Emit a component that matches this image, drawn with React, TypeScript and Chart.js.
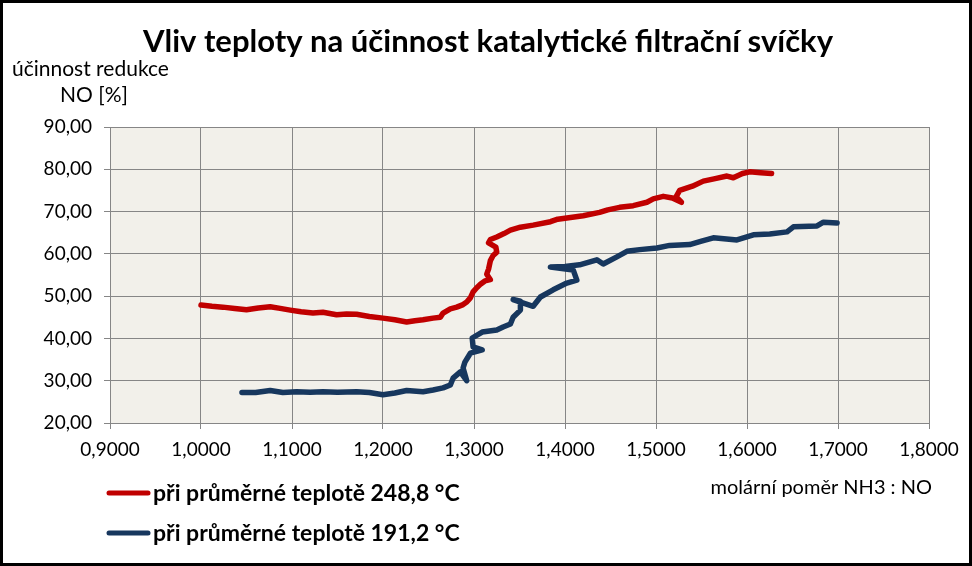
import React, { useEffect, useRef } from "react";
import { Chart, registerables } from "chart.js";

Chart.register(...registerables);

const TITLE = "Vliv teploty na účinnost katalytické filtrační svíčky";
const Y_TITLE_1 = "účinnost redukce";
const Y_TITLE_2 = "NO [%]";
const X_TITLE = "molární poměr NH3 : NO";
const SERIES_NAMES = ["při průměrné teplotě 248,8 °C", "při průměrné teplotě 191,2 °C"];
const SERIES_COLORS = ["#C00000", "#17375E"];

const redX = [
  1.000, 1.012, 1.024, 1.037, 1.050, 1.063, 1.076, 1.087, 1.098, 1.110, 1.123, 1.134, 1.149, 1.160,
  1.171, 1.185, 1.200, 1.213, 1.226, 1.235, 1.244, 1.255, 1.263, 1.266, 1.274, 1.281, 1.288, 1.292,
  1.296, 1.299, 1.303, 1.307, 1.312, 1.318, 1.314, 1.316, 1.318, 1.321, 1.325, 1.324, 1.316, 1.318,
  1.325, 1.333, 1.340, 1.351, 1.365, 1.384, 1.392, 1.402, 1.420, 1.438, 1.447, 1.460, 1.475, 1.490,
  1.497, 1.508, 1.518, 1.528, 1.522, 1.526, 1.540, 1.552, 1.565, 1.578, 1.585, 1.595, 1.603, 1.615, 1.627,
];
const redY = [
  47.9, 47.6, 47.4, 47.1, 46.8, 47.2, 47.5, 47.1, 46.7, 46.3, 46.0, 46.2, 45.6, 45.8,
  45.7, 45.2, 44.8, 44.4, 43.9, 44.2, 44.4, 44.8, 45.0, 46.0, 47.0, 47.4, 48.0, 48.6,
  49.6, 51.0, 52.0, 52.8, 53.6, 53.9, 55.2, 56.4, 58.4, 59.6, 60.4, 61.6, 62.6, 63.4,
  64.0, 64.8, 65.6, 66.3, 66.8, 67.6, 68.2, 68.5, 69.0, 69.8, 70.4, 71.0, 71.4, 72.2,
  73.0, 73.6, 73.2, 72.2, 73.5, 75.0, 76.0, 77.2, 77.8, 78.4, 78.0, 79.0, 79.4, 79.2, 79.0,
];

const blueX = [
  1.045, 1.060, 1.076, 1.090, 1.105, 1.120, 1.134, 1.150, 1.171, 1.185, 1.200, 1.213, 1.226, 1.244,
  1.255, 1.266, 1.274, 1.277, 1.285, 1.292, 1.288, 1.290, 1.296, 1.309, 1.299, 1.298, 1.309, 1.325,
  1.332, 1.340, 1.343, 1.351, 1.351, 1.343, 1.365, 1.373, 1.387, 1.402, 1.413, 1.409, 1.384, 1.400,
  1.416, 1.435, 1.442, 1.457, 1.468, 1.482, 1.501, 1.515, 1.537, 1.550, 1.563, 1.589, 1.607, 1.625,
  1.644, 1.651, 1.677, 1.684, 1.699,
];
const blueY = [
  27.2, 27.2, 27.7, 27.2, 27.4, 27.3, 27.4, 27.3, 27.4, 27.2, 26.7, 27.1, 27.7, 27.4,
  27.8, 28.3, 29.0, 30.6, 32.1, 30.0, 33.0, 34.4, 36.5, 37.3, 38.0, 40.1, 41.5, 42.0,
  42.7, 43.4, 45.0, 46.7, 48.8, 49.2, 47.6, 49.8, 51.5, 53.1, 53.8, 56.2, 56.9, 57.0,
  57.4, 58.6, 57.6, 59.3, 60.6, 61.0, 61.4, 62.0, 62.2, 63.0, 63.8, 63.3, 64.5, 64.7,
  65.2, 66.4, 66.6, 67.5, 67.3,
];

const X_MIN = 0.9, X_MAX = 1.8, X_STEP = 0.1;
const Y_MIN = 20, Y_MAX = 90, Y_STEP = 10;

const FONT = "Lato, 'Open Sans', sans-serif";
const GRID = "#868686";
const PLOT_BG = "#F2F0EA";

const toPts = (xs: number[], ys: number[]) => xs.map((x, i) => ({ x, y: ys[i] }));

const decorPlugin = {
  id: "decor",
  beforeDraw(chart: any) {
    const { ctx, chartArea, width, height } = chart;
    ctx.save();
    ctx.fillStyle = "#FFFFFF";
    ctx.fillRect(0, 0, width, height);
    ctx.fillStyle = PLOT_BG;
    ctx.fillRect(chartArea.left, chartArea.top, chartArea.right - chartArea.left, chartArea.bottom - chartArea.top);
    ctx.restore();
  },
  afterDraw(chart: any) {
    const { ctx, width, height } = chart;
    ctx.save();
    ctx.fillStyle = "#000000";
    ctx.textBaseline = "alphabetic";
    // title
    ctx.font = `bold 31px ${FONT}`;
    ctx.textAlign = "center";
    ctx.fillText(TITLE, 488, 52);
    // y title
    ctx.font = `21px ${FONT}`;
    ctx.textAlign = "left";
    ctx.fillText(Y_TITLE_1, 12, 76);
    ctx.fillText(Y_TITLE_2, 60, 102);
    // x title
    ctx.font = `20px ${FONT}`;
    ctx.textAlign = "right";
    ctx.fillText(X_TITLE, 932, 494);
    // legend
    const rows = [493, 533];
    rows.forEach((ly, i) => {
      ctx.strokeStyle = SERIES_COLORS[i];
      ctx.lineWidth = 5;
      ctx.lineCap = "round";
      ctx.beginPath();
      ctx.moveTo(109, ly);
      ctx.lineTo(148, ly);
      ctx.stroke();
      ctx.font = `bold 23px ${FONT}`;
      ctx.textAlign = "left";
      ctx.fillText(SERIES_NAMES[i], 153, ly + 8);
    });
    // outer border
    ctx.strokeStyle = "#000000";
    ctx.lineWidth = 3;
    ctx.strokeRect(1.5, 1.5, width - 3, height - 3);
    ctx.restore();
  },
};

export default function App() {
  const ref = useRef<HTMLCanvasElement | null>(null);
  useEffect(() => {
    document.body.style.margin = "0";
    const canvas = ref.current;
    if (!canvas) return;
    const chart = new Chart(canvas, {
      type: "scatter",
      data: {
        datasets: [
          {
            label: SERIES_NAMES[0],
            data: toPts(redX, redY),
            showLine: true,
            borderColor: SERIES_COLORS[0],
            backgroundColor: SERIES_COLORS[0],
            borderWidth: 5.5,
            pointRadius: 0,
            borderJoinStyle: "round",
            borderCapStyle: "round",
            tension: 0,
          },
          {
            label: SERIES_NAMES[1],
            data: toPts(blueX, blueY),
            showLine: true,
            borderColor: SERIES_COLORS[1],
            backgroundColor: SERIES_COLORS[1],
            borderWidth: 5.5,
            pointRadius: 0,
            borderJoinStyle: "round",
            borderCapStyle: "round",
            tension: 0,
          },
        ],
      },
      options: {
        responsive: false,
        animation: false,
        events: [],
        layout: { padding: { left: 0, top: 127, right: 43, bottom: 103 } },
        plugins: {
          legend: { display: false },
          title: { display: false },
          tooltip: { enabled: false },
        },
        scales: {
          x: {
            type: "linear",
            min: X_MIN,
            max: X_MAX,
            afterFit: (s: any) => { s.height = 40; },
            ticks: {
              stepSize: X_STEP,
              color: "#000000",
              font: { family: FONT, size: 19 },
              padding: 9,
              maxRotation: 0,
              callback: (v: any) => Number(v).toFixed(4).replace(".", ","),
            },
            grid: { color: GRID, lineWidth: 1, drawTicks: true, tickLength: 6, tickColor: GRID },
            border: { color: GRID, width: 1 },
          },
          y: {
            type: "linear",
            min: Y_MIN,
            max: Y_MAX,
            afterFit: (s: any) => { s.width = 110; },
            ticks: {
              stepSize: Y_STEP,
              color: "#000000",
              font: { family: FONT, size: 19 },
              padding: 12,
              callback: (v: any) => Number(v).toFixed(2).replace(".", ","),
            },
            grid: { color: GRID, lineWidth: 1, drawTicks: true, tickLength: 6, tickColor: GRID },
            border: { color: GRID, width: 1 },
          },
        },
      },
      plugins: [decorPlugin],
    } as any);
    return () => chart.destroy();
  }, []);
  return (
    <div style={{ position: "absolute", left: 0, top: 0, width: 972, height: 566 }}>
      <canvas ref={ref} width={972} height={566} style={{ display: "block", width: 972, height: 566 }} />
    </div>
  );
}
